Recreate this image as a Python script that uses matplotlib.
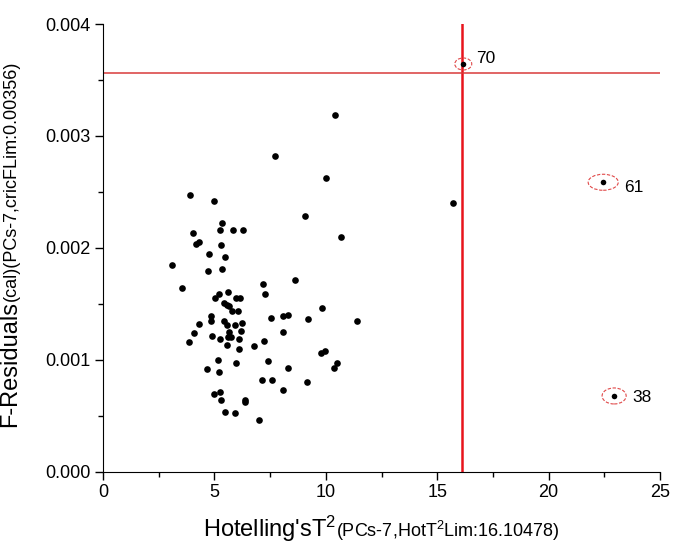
import numpy as np
import matplotlib
matplotlib.use('Agg')
import matplotlib.pyplot as plt
from matplotlib.patches import Ellipse

plt.rcParams['font.family'] = ['Liberation Sans', 'DejaVu Sans']
plt.rcParams['mathtext.fontset'] = 'custom'
plt.rcParams['mathtext.rm'] = 'Liberation Sans'
plt.rcParams['mathtext.it'] = 'Liberation Sans:italic'

# samples inside limits
t2 = [10.41, 7.72, 10.02, 3.90, 4.98, 9.07, 5.33, 5.27, 5.85, 6.27,
      10.68, 4.05, 4.17, 4.32, 5.31, 4.74, 5.46, 3.10, 4.70, 5.33,
      8.63, 7.18, 3.53, 5.59, 5.19, 7.27, 5.01, 5.97, 6.15, 5.42,
      5.55, 5.67, 5.80, 6.07, 9.81, 4.83, 4.86, 4.31, 7.54, 8.09,
      8.30, 9.18, 11.42, 5.44, 5.58, 5.91, 6.24, 6.18, 5.67, 4.10,
      4.89, 5.61, 5.73, 5.23, 6.09, 8.06, 3.87, 7.24, 5.55, 6.79,
      6.09, 9.78, 9.98, 5.14, 5.97, 7.41, 10.52, 10.38, 8.30, 4.65,
      5.19, 7.15, 7.58, 9.17, 8.06, 4.97, 5.25, 5.30, 6.36, 6.36,
      5.48, 5.92, 7.00, 15.71]
fres = [0.003188, 0.002821, 0.002622, 0.002473, 0.002420, 0.002286, 0.002221, 0.002158, 0.002158, 0.002158,
        0.002095, 0.002137, 0.002033, 0.002056, 0.002024, 0.001949, 0.001922, 0.001851, 0.001798, 0.001810,
        0.001711, 0.001676, 0.001646, 0.001610, 0.001589, 0.001589, 0.001554, 0.001554, 0.001554, 0.001512,
        0.001494, 0.001482, 0.001440, 0.001440, 0.001467, 0.001396, 0.001345, 0.001318, 0.001372, 0.001393,
        0.001405, 0.001366, 0.001345, 0.001348, 0.001310, 0.001310, 0.001328, 0.001262, 0.001253, 0.001244,
        0.001217, 0.001208, 0.001208, 0.001185, 0.001190, 0.001250, 0.001163, 0.001170, 0.001131, 0.001122,
        0.001101, 0.001060, 0.001078, 0.001000, 0.000973, 0.000988, 0.000973, 0.000926, 0.000929, 0.000917,
        0.000890, 0.000819, 0.000824, 0.000801, 0.000732, 0.000699, 0.000714, 0.000646, 0.000640, 0.000625,
        0.000536, 0.000530, 0.000464, 0.002399]

# flagged samples
out_ids = ['70', '61', '38']
out_t2 = [16.17, 22.45, 22.94]
out_fres = [0.003643, 0.002587, 0.000679]

hot_lim = 16.10478
f_lim = 0.00356

fig = plt.figure(figsize=(6.75, 5.48), dpi=100)
ax = fig.add_axes([0.1526, 0.1387, 0.8252, 0.8175])

ax.plot(t2, fres, 'o', color='black', markersize=4.8, markeredgewidth=0)
ax.plot(out_t2, out_fres, 'o', color='black', markersize=4.0, markeredgewidth=0)

ax.axvline(hot_lim, color='#e8141c', lw=1.8, zorder=1)
ax.axhline(f_lim, color='#d93a3a', lw=1.1, zorder=1)

# dashed circles round the flagged samples
ell_w = [0.76, 1.35, 1.08]
ell_h = [0.000107, 0.000143, 0.000143]
offs = [(9, 4), (15, -4), (13, -1)]
for i in range(len(out_ids)):
    ax.add_patch(Ellipse((out_t2[i], out_fres[i]), ell_w[i], ell_h[i], fill=False,
                         edgecolor='#e04848', lw=0.8, ls=(0, (3, 1.5))))
    ax.annotate(out_ids[i], (out_t2[i], out_fres[i]), xytext=offs[i], textcoords='offset points',
                fontsize=12.5, va='center', ha='left')

ax.set_xlim(0, 25)
ax.set_ylim(0, 0.004)
ax.set_xticks(np.arange(0, 26, 5))
ax.set_xticks(np.arange(0, 25.1, 2.5), minor=True)
ax.set_yticks(np.arange(0, 0.0041, 0.001))
ax.set_yticks(np.arange(0, 0.0041, 0.0005), minor=True)
ax.set_yticklabels(['0.000', '0.001', '0.002', '0.003', '0.004'])
ax.tick_params(which='major', length=6, width=1, labelsize=13, direction='out', pad=3)
ax.tick_params(which='minor', length=3.5, width=1, direction='out')
ax.spines['top'].set_visible(False)
ax.spines['right'].set_visible(False)

# axis titles, big part + small part
xa = fig.text(0, 0, r"Hotelling'sT$^{\mathregular{2}}$", fontsize=17, ha='left', va='baseline')
xb = fig.text(0, 0, r"(PCs-7,HotT$^{\mathregular{2}}$Lim:16.10478)", fontsize=13, ha='left', va='baseline')
ya = fig.text(0, 0, "F-Residuals", fontsize=17, ha='left', va='baseline', rotation=90, rotation_mode='anchor')
yb = fig.text(0, 0, "(cal)(PCs-7,cricFLim:0.00356)", fontsize=13, ha='left', va='baseline',
              rotation=90, rotation_mode='anchor')

fig.canvas.draw()
W, H = fig.bbox.width, fig.bbox.height
w1 = xa.get_window_extent().width
w2 = xb.get_window_extent().width
x0 = 381 - (w1 + w2) / 2
xa.set_position((x0 / W, 11 / H))
xb.set_position(((x0 + w1) / W, 11 / H))

h1 = ya.get_window_extent().height
h2 = yb.get_window_extent().height
y0 = (H - 244) - (h1 + h2) / 2
ya.set_position((16 / W, y0 / H))
yb.set_position((16 / W, (y0 + h1) / H))

fig.savefig('out.png', dpi=100)
